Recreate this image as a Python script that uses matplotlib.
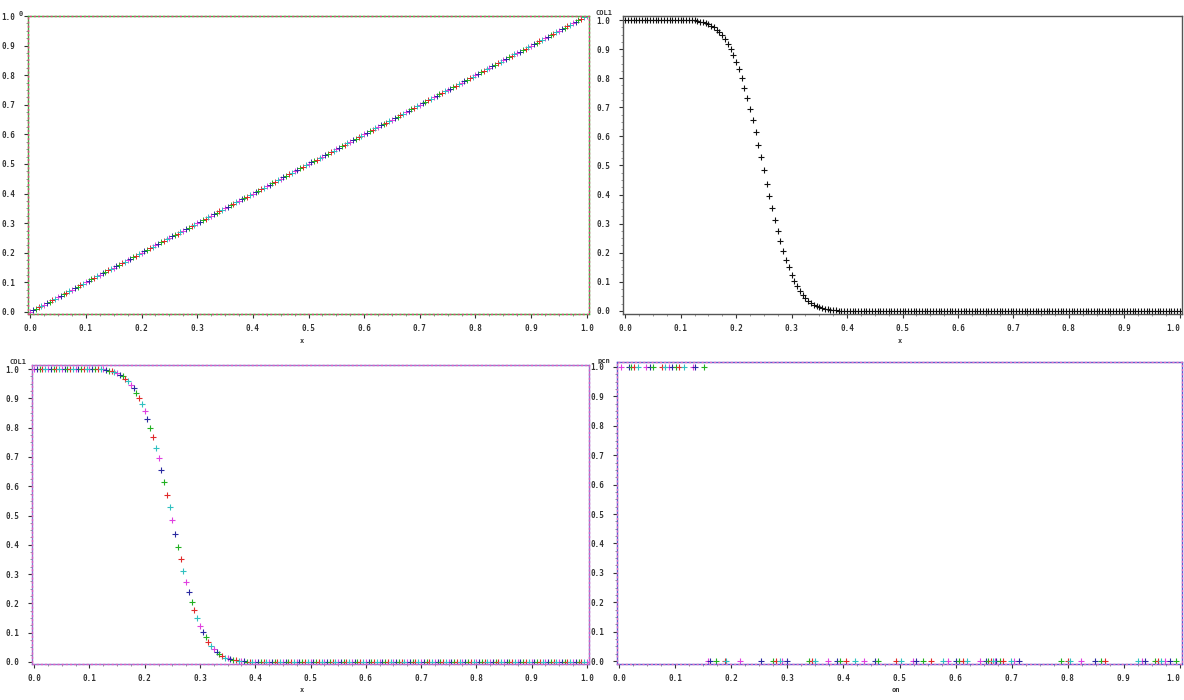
import numpy as np
import matplotlib
matplotlib.use('Agg')
import matplotlib.pyplot as plt
from matplotlib.ticker import AutoMinorLocator

# x grid used by the first three panels (step 0.005)
x_grid = np.round(np.arange(201) * 0.005, 3)

# panel 1: col1 follows x
col1_line = x_grid.copy()

# panels 2 and 3: drop from 1 to 0 (values read for x = 0.130 ... 0.390)
curve_top = [1.0] * 26
curve_mid = [0.996, 0.994, 0.992, 0.989, 0.985, 0.981, 0.975, 0.967, 0.958, 0.947,
             0.935, 0.919, 0.901, 0.881, 0.857, 0.831, 0.800, 0.768, 0.732, 0.695,
             0.655, 0.614, 0.571, 0.528, 0.484, 0.437, 0.394, 0.352, 0.312, 0.274,
             0.239, 0.206, 0.176, 0.149, 0.123, 0.102, 0.084, 0.068, 0.055, 0.044,
             0.034, 0.027, 0.021, 0.015, 0.012, 0.009, 0.006, 0.005, 0.003, 0.002,
             0.002, 0.001, 0.001]
curve_low = [0.0] * 122
col1_curve = np.array(curve_top + curve_mid + curve_low)

# panel 4: observed values
on_one = [0.003, 0.017, 0.021, 0.026, 0.033, 0.048, 0.054, 0.060, 0.076, 0.082,
          0.089, 0.095, 0.101, 0.106, 0.116, 0.131, 0.136, 0.151]
on_zero = [0.158, 0.162, 0.173, 0.188, 0.190, 0.216, 0.253, 0.275, 0.280, 0.286,
           0.290, 0.299, 0.339, 0.344, 0.350, 0.372, 0.388, 0.393, 0.404, 0.421,
           0.436, 0.456, 0.462, 0.494, 0.503, 0.524, 0.530, 0.542, 0.557, 0.577,
           0.586, 0.601, 0.607, 0.613, 0.620, 0.643, 0.654, 0.658, 0.664, 0.667,
           0.670, 0.673, 0.679, 0.684, 0.699, 0.704, 0.713, 0.788, 0.801, 0.804,
           0.823, 0.848, 0.860, 0.866, 0.926, 0.932, 0.938, 0.955, 0.961, 0.967,
           0.973, 0.982, 0.994]

tick_vals = np.round(np.arange(11) * 0.1, 1)
cycle = ['#e040e0', '#2a2aa0', '#22b022', '#e02a2a', '#30c0c0']

W, H = 1184, 700
fig = plt.figure(figsize=(W / 100, H / 100), dpi=100)


def make_axes(left, top, right, bottom, ylim, frame):
    ax = fig.add_axes([left / W, 1 - bottom / H, (right - left) / W, (bottom - top) / H])
    ax.set_xlim(-0.004, 1.004)
    ax.set_ylim(*ylim)
    ax.set_xticks(tick_vals)
    ax.set_yticks(tick_vals)
    ax.set_xticklabels([f'{t:.1f}' for t in tick_vals])
    ax.set_yticklabels([f'{t:.1f}' for t in tick_vals])
    ax.xaxis.set_minor_locator(AutoMinorLocator(4))
    ax.yaxis.set_minor_locator(AutoMinorLocator(4))
    ax.tick_params(which='major', direction='out', length=3, width=0.8,
                   labelsize=5.5, colors='#333333')
    ax.tick_params(axis='x', which='major', pad=4)
    ax.tick_params(axis='y', which='major', pad=6)
    ax.tick_params(which='minor', direction='out', length=1.5, width=0.6, colors='#888888')
    for lab in ax.get_xticklabels() + ax.get_yticklabels():
        lab.set_fontfamily('DejaVu Sans Mono')
        lab.set_fontweight('bold')
    if right > W - 20:
        # keep the last label inside the picture
        ax.get_xticklabels()[-1].set_ha('right')
    for s in ax.spines.values():
        s.set_color(frame[0])
        s.set_linewidth(1.0)
    if len(frame) > 1:
        # second colour dashed over the frame, like the dithered border
        kw = dict(transform=ax.transAxes, color=frame[1], lw=1.0,
                  dashes=(1.5, 1.5), clip_on=False, zorder=5)
        ax.plot([0, 1, 1, 0, 0], [0, 0, 1, 1, 0], **kw)
    return ax


def small_text(x, y, s):
    fig.text(x / W, 1 - y / H, s, fontsize=5, fontfamily='DejaVu Sans Mono',
             fontweight='bold', ha='center', va='center', color='#333333')


# top left
ax1 = make_axes(28, 16, 589, 314, (-0.007, 1.0), ['#3cb43c', '#e04080'])
for i in range(5):
    ax1.plot(x_grid[i::5], col1_line[i::5], '+', color=cycle[i], ms=4, mew=0.7)
small_text(21, 14, '0')
small_text(302, 341, 'x')

# top right
ax2 = make_axes(623, 16, 1182, 314, (-0.011, 1.014), ['#555555'])
ax2.plot(x_grid, col1_curve, '+', color='#111111', ms=5, mew=0.8)
small_text(604, 13, 'COL1')
small_text(900, 341, 'x')

# bottom left
ax3 = make_axes(32, 365, 589, 664, (-0.007, 1.014), ['#8a7ad0', '#e060c0'])
for i in range(5):
    ax3.plot(x_grid[i::5], col1_curve[i::5], '+', color=cycle[i], ms=5, mew=0.8)
small_text(18, 362, 'COL1')
small_text(302, 690, 'x')

# bottom right
ax4 = make_axes(617, 362, 1182, 664, (-0.01, 1.017), ['#5a5ad0', '#e070c0'])
for i in range(5):
    ax4.plot(on_one[i::5], [1.0] * len(on_one[i::5]), '+', color=cycle[i], ms=5, mew=0.8)
    ax4.plot(on_zero[i::5], [0.0] * len(on_zero[i::5]), '+', color=cycle[i], ms=5, mew=0.8)
small_text(604, 361, 'pcn')
small_text(896, 690, 'on')

fig.savefig('out.png', dpi=100)
